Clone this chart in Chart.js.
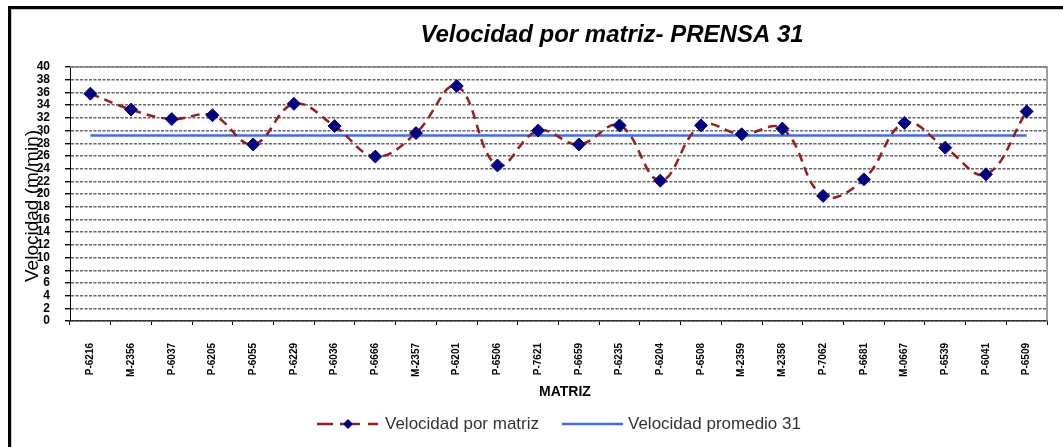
<!DOCTYPE html>
<html>
<head>
<meta charset="utf-8">
<script src="https://cdn.jsdelivr.net/npm/chart.js@4.4.0/dist/chart.umd.min.js"></script>
<style>
  body { margin: 0; background: #fff; }
</style>
</head>
<body>
<canvas id="grafico" width="1063" height="447"></canvas>
<script>
const matrices = ['P-6216', 'M-2356', 'P-6037', 'P-6205', 'P-6055', 'P-6229', 'P-6036', 'P-6666',
  'M-2357', 'P-6201', 'P-6506', 'P-7621', 'P-6659', 'P-6235', 'P-6204', 'P-6508',
  'M-2359', 'M-2358', 'P-7062', 'P-6681', 'M-0667', 'P-6539', 'P-6041', 'P-6509'];
const velocidad = [35.8, 33.3, 31.8, 32.4, 27.8, 34.2, 30.7, 25.9,
  29.6, 37.0, 24.5, 30.0, 27.8, 30.8, 22.1, 30.8,
  29.4, 30.3, 19.7, 22.3, 31.2, 27.3, 23.1, 33.0];
const promedio = 29.2;
const lineaPromedio = matrices.map(() => promedio);
const ejeYMin = 0, ejeYMax = 40, ejeYPaso = 2;

const fuente = 'Arial, "Liberation Sans", sans-serif';
const fuenteEstrecha = '"Liberation Sans Narrow", "Arial Narrow", Arial, sans-serif';

// textos, marco y leyenda dibujados a mano (estilo Excel)
const decoracion = {
  id: 'decoracion',
  beforeDatasetsDraw(chart) {
    const { ctx, chartArea: a } = chart;
    ctx.save();
    ctx.strokeStyle = '#808080';
    ctx.lineWidth = 1.5;
    ctx.beginPath();
    ctx.moveTo(a.left, a.top);
    ctx.lineTo(a.right, a.top);
    ctx.lineTo(a.right, a.bottom);
    ctx.stroke();
    ctx.restore();
  },
  afterDraw(chart) {
    const ctx = chart.ctx;
    ctx.save();
    // marco
    ctx.fillStyle = '#000';
    ctx.fillRect(8, 6, 1055, 3);
    ctx.fillRect(8, 6, 3, 441);
    ctx.fillStyle = '#c8c8c8';
    ctx.fillRect(11, 9, 1052, 1);
    ctx.fillRect(11, 9, 1, 438);

    // titulo
    ctx.fillStyle = '#000';
    ctx.font = 'italic bold 24px ' + fuente;
    ctx.textAlign = 'center';
    ctx.textBaseline = 'alphabetic';
    ctx.fillText('Velocidad por matriz- PRENSA 31', 612, 42);

    // titulo eje Y
    ctx.save();
    ctx.translate(38, 206);
    ctx.rotate(-Math.PI / 2);
    ctx.font = '19px ' + fuente;
    ctx.fillText('Velocidad (m/min)', 0, 0);
    ctx.restore();

    // titulo eje X
    ctx.font = 'bold 14px ' + fuente;
    ctx.fillText('MATRIZ', 565, 396);

    // leyenda
    const ly = 424;
    ctx.strokeStyle = '#9B1C1C';
    ctx.lineWidth = 2.5;
    [[317, 333], [340, 360], [368, 378]].forEach(([x0, x1]) => {
      ctx.beginPath(); ctx.moveTo(x0, ly); ctx.lineTo(x1, ly); ctx.stroke();
    });
    ctx.fillStyle = '#000080';
    ctx.beginPath();
    ctx.moveTo(348, ly - 5); ctx.lineTo(353, ly); ctx.lineTo(348, ly + 5); ctx.lineTo(343, ly);
    ctx.closePath(); ctx.fill();
    ctx.strokeStyle = '#3D6DF2';
    ctx.beginPath(); ctx.moveTo(562, ly); ctx.lineTo(623, ly); ctx.stroke();

    ctx.fillStyle = '#333';
    ctx.font = '17px ' + fuente;
    ctx.textAlign = 'left';
    ctx.textBaseline = 'middle';
    ctx.fillText('Velocidad por matriz', 385, ly);
    ctx.fillText('Velocidad promedio 31', 628, ly);
    ctx.restore();
  }
};

new Chart(document.getElementById('grafico'), {
  type: 'line',
  data: {
    labels: matrices,
    datasets: [{
      label: 'Velocidad por matriz',
      data: velocidad,
      borderColor: '#9B1C1C',
      borderWidth: 2.5,
      borderDash: [9, 6],
      tension: 0.4,
      pointStyle: 'rectRot',
      pointRadius: 6.5,
      pointBackgroundColor: '#000080',
      pointBorderColor: '#000080',
      pointBorderWidth: 1
    }, {
      label: 'Velocidad promedio 31',
      data: lineaPromedio,
      borderColor: '#3D6DF2',
      borderWidth: 2.5,
      pointRadius: 0,
      tension: 0
    }]
  },
  options: {
    responsive: false,
    animation: false,
    devicePixelRatio: 1,
    layout: { padding: { top: 67, right: 16, left: 0, bottom: 0 } },
    plugins: {
      legend: { display: false },
      title: { display: false },
      tooltip: { enabled: false }
    },
    scales: {
      x: {
        offset: true,
        grid: { drawOnChartArea: false, offset: true, tickLength: 4, tickColor: '#000' },
        border: { color: '#333', width: 1.5 },
        ticks: {
          autoSkip: false, minRotation: 90, maxRotation: 90, padding: 18, color: '#000',
          font: { family: fuenteEstrecha, size: 10, weight: 'bold' }
        },
        afterFit(s) { s.height = 126; }
      },
      y: {
        min: ejeYMin,
        max: ejeYMax,
        grid: { color: '#666', lineWidth: 1.4, tickLength: 5, tickColor: '#000', tickBorderDash: [] },
        border: { color: '#000', width: 1, dash: [3, 1.5] },
        ticks: {
          stepSize: ejeYPaso, autoSkip: false, padding: 15, color: '#000',
          font: { family: fuente, size: 12, weight: 'bold' }
        },
        afterFit(s) { s.width = 70; }
      }
    }
  },
  plugins: [decoracion]
});
</script>
</body>
</html>
